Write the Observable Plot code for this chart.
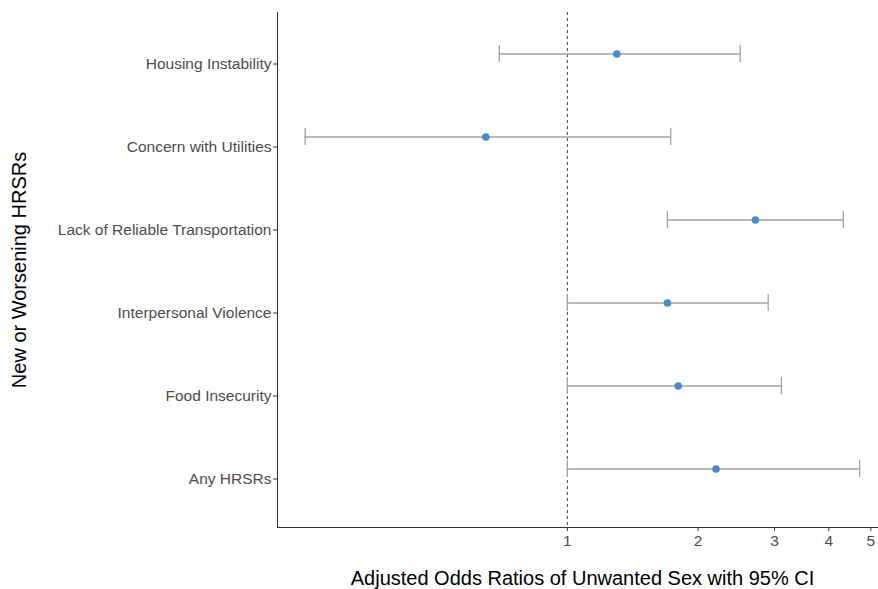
<!DOCTYPE html>
<html>
<head>
<meta charset="utf-8">
<script src="https://cdn.jsdelivr.net/npm/d3@7"></script>
<script src="https://cdn.jsdelivr.net/npm/@observablehq/plot@0.6"></script>
<style>
  html, body { margin: 0; padding: 0; background: #fff; }
  #chart { width: 878px; height: 589px; overflow: hidden; }
  #chart svg { display: block; max-width: none !important; }
</style>
</head>
<body>
<div id="chart"></div>
<script>
// Adjusted odds ratios (with 95% CI) by new or worsening HRSR
const categories = [
  "Housing Instability",
  "Concern with Utilities",
  "Lack of Reliable Transportation",
  "Interpersonal Violence",
  "Food Insecurity",
  "Any HRSRs"
];
const oddsRatio = [1.30, 0.649, 2.71, 1.70, 1.80, 2.20];
const ciLower   = [0.697, 0.249, 1.70, 1.00, 1.00, 1.00];
const ciUpper   = [2.50, 1.73, 4.32, 2.90, 3.11, 4.71];
const xTicks = [1, 2, 3, 4, 5];

const rows = categories.map((c, i) => ({
  category: c, or: oddsRatio[i], lo: ciLower[i], hi: ciUpper[i]
}));

const font = "'Liberation Sans', Arial, sans-serif";

const chart = Plot.plot({
  width: 887,
  height: 589,
  marginLeft: 277,
  marginRight: 0,
  marginTop: 12,
  marginBottom: 62,
  style: { fontFamily: font, background: "#fff" },
  x: { type: "log", domain: [0.215, 5.46] },
  y: { type: "band", domain: categories, range: [11.7, 510.6], padding: 0 },
  marks: [
    Plot.frame({ anchor: "left", stroke: "#333", strokeWidth: 1.1 }),
    Plot.frame({ anchor: "bottom", stroke: "#333", strokeWidth: 1.1 }),
    Plot.axisY({ tickSize: 4, tickPadding: 2, dy: 10, fontSize: 15.5, color: "#4d4d4d", stroke: "#333", label: null }),
    Plot.axisX({ ticks: xTicks, tickFormat: d3.format("d"), tickSize: 4, tickPadding: 3, fontSize: 15.5, color: "#4d4d4d", stroke: "#333", label: null }),
    Plot.ruleX([1], { stroke: "#444", strokeDasharray: "3,3", strokeWidth: 1 }),
    Plot.ruleY(rows, { y: "category", x1: "lo", x2: "hi", stroke: "#a3a3a3", strokeWidth: 1.3 }),
    Plot.tickX(rows, { x: "lo", y: "category", stroke: "#a3a3a3", strokeWidth: 1.3, insetTop: 33, insetBottom: 33 }),
    Plot.tickX(rows, { x: "hi", y: "category", stroke: "#a3a3a3", strokeWidth: 1.3, insetTop: 33, insetBottom: 33 }),
    Plot.dot(rows, { x: "or", y: "category", r: 3.8, fill: "#4b8bc8", stroke: "none" }),
    Plot.text(["Adjusted Odds Ratios of Unwanted Sex with 95% CI"], {
      frameAnchor: "bottom", dy: 57, fontSize: 20, fill: "#000", fontFamily: font
    }),
    Plot.text(["New or Worsening HRSRs"], {
      frameAnchor: "left", dx: -258, rotate: -90, textAnchor: "middle", fontSize: 20, fill: "#000", fontFamily: font
    })
  ]
});

document.getElementById("chart").appendChild(chart);
</script>
</body>
</html>
